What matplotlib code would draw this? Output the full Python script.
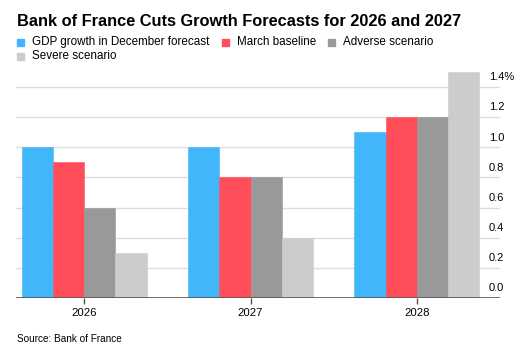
import numpy as np
import matplotlib
matplotlib.use("Agg")
import matplotlib.pyplot as plt
from matplotlib.patches import Rectangle
from matplotlib.transforms import blended_transform_factory

# Data
years = ["2026", "2027", "2028"]
december = [1.0, 1.0, 1.1]
march = [0.9, 0.8, 1.2]
adverse = [0.6, 0.8, 1.2]
severe = [0.3, 0.4, 1.5]
series_names = ["GDP growth in December forecast", "March baseline",
                "Adverse scenario", "Severe scenario"]
colors = ["#42b6fa", "#ff4d5a", "#999999", "#cccccc"]
yticks = [0.0, 0.2, 0.4, 0.6, 0.8, 1.0, 1.2, 1.4]

plt.rcParams["font.family"] = ["Liberation Sans", "DejaVu Sans"]

W, H = 525, 355
fig = plt.figure(figsize=(W / 100, H / 100), dpi=100)
ax = fig.add_axes([16 / W, 1 - 298 / H, (500 - 16) / W, (298 - 72) / H])

x = np.arange(len(years))
w = 0.1875
all_series = [december, march, adverse, severe]
for i, (vals, c) in enumerate(zip(all_series, colors)):
    ax.bar(x + (i - 1.5) * w, vals, width=w, color=c, edgecolor=c,
           linewidth=0.4, zorder=2)

ax.set_xlim(-0.41, 2.5)
ax.set_ylim(0, 1.5)

for v in yticks[1:]:
    ax.axhline(v, color="#dddddd", lw=1, zorder=1)
ax.axhline(0, color="#555555", lw=1.2, zorder=3)

for s in ax.spines.values():
    s.set_visible(False)
ax.set_yticks([])
ax.set_xticks(x)
ax.set_xticklabels(years, fontsize=8.2)
ax.tick_params(axis="x", length=4, width=1, color="#555555", pad=3)

# y labels sit just above their gridlines, at the right
tr = blended_transform_factory(fig.transFigure, ax.transData)
for v in yticks:
    lab = f"{v:.1f}" + ("%" if v == yticks[-1] else "")
    ax.text(489 / W, v + 0.032, lab, transform=tr,
            fontsize=8, ha="left", va="bottom")

fig.text(17 / W, 1 - 22 / H, "Bank of France Cuts Growth Forecasts for 2026 and 2027",
         fontsize=11.8, fontweight="bold", va="center", ha="left")

leg_pos = [(17, 42), (222, 42), (328, 42), (17, 56)]
for (lx, ly), name, c in zip(leg_pos, series_names, colors):
    fig.patches.append(Rectangle((lx / W, 1 - (ly + 4) / H), 7 / W, 7 / H,
                                 transform=fig.transFigure, color=c))
    fig.text((lx + 15) / W, 1 - ly / H, name, fontsize=8.4, va="center", ha="left")

fig.text(17 / W, 1 - 339 / H, "Source: Bank of France", fontsize=7.2,
         va="center", ha="left")

fig.savefig("out.png", dpi=100)
